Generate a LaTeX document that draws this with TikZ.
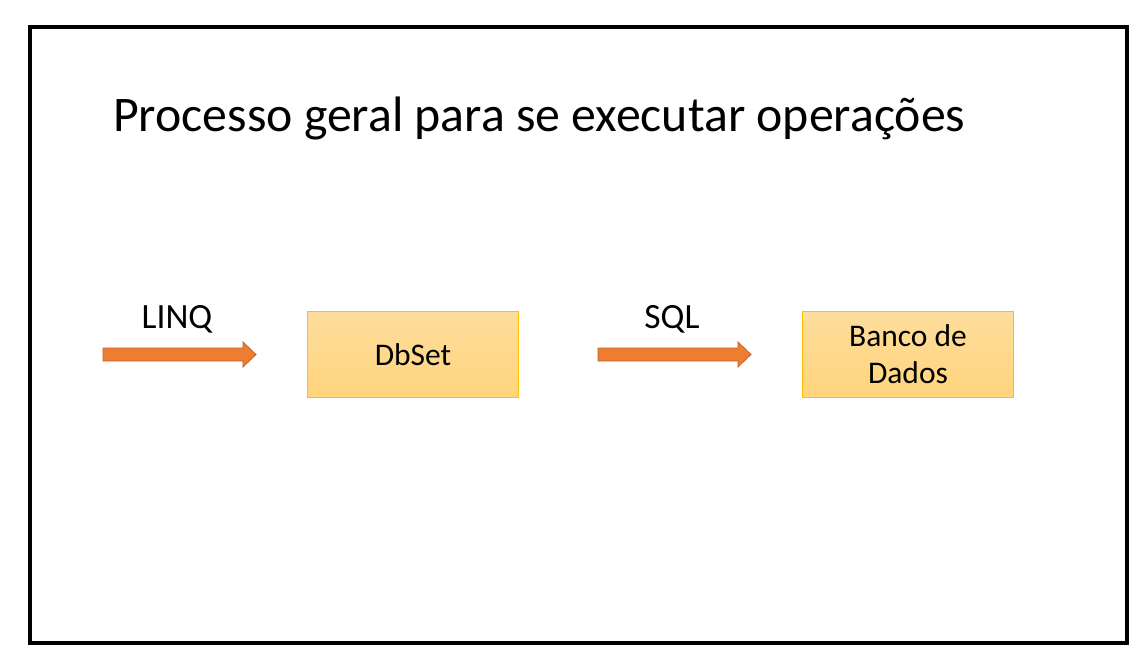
\documentclass[tikz,border=0pt]{standalone}
\usepackage{fontspec}
\setmainfont{Carlito}
\definecolor{arrowfill}{HTML}{ED7D31}
\definecolor{arrowline}{HTML}{C0632A}
\definecolor{boxtop}{HTML}{FEDD9C}
\definecolor{boxbot}{HTML}{FFD47C}
\definecolor{boxline}{HTML}{FFC000}
\begin{document}
\begin{tikzpicture}[x=1pt,y=-1pt,
  blockarrow/.style={fill=arrowfill,draw=arrowline,line width=0.8pt},
  stagebox/.style={rectangle,draw=boxline,line width=1pt,top color=boxtop,bottom color=boxbot,
    minimum width=211pt,minimum height=85pt,inner sep=0pt},
  boxtext/.style={inner sep=0pt,anchor=base,font=\fontsize{31.5}{37}\selectfont},
  arrowlabel/.style={font=\fontsize{35.5}{40}\selectfont,inner sep=0pt,anchor=base}]
\useasboundingbox (0,0) rectangle (1146,660);
\fill[white] (0,0) rectangle (1146,660);
\draw[line width=4pt] (29.5,27) rectangle (1126.5,642.5);
\node[anchor=base west,inner sep=0pt,font=\fontsize{49.8}{58}\selectfont] (title) at (113,132) {Processo geral para se executar operações};
\draw[blockarrow] (103,348) -- (243,348) -- (243,342) -- (256,354.5) -- (243,367) -- (243,361) -- (103,361) -- cycle;
\draw[blockarrow] (598,348) -- (738,348) -- (738,342) -- (751,354.5) -- (738,367) -- (738,361) -- (598,361) -- cycle;
\node[arrowlabel] (linq) at (177,329) {LINQ};
\node[arrowlabel] (sql) at (672,329) {SQL};
\node[stagebox] (dbset) at (412.5,354.5) {};
\node[stagebox] (banco) at (908,354.5) {};
\node[boxtext] (dbsettext) at (413,366) {DbSet};
\node[boxtext] (banco1) at (908,346) {Banco de};
\node[boxtext] (banco2) at (908,383) {Dados};
\end{tikzpicture}
\end{document}
